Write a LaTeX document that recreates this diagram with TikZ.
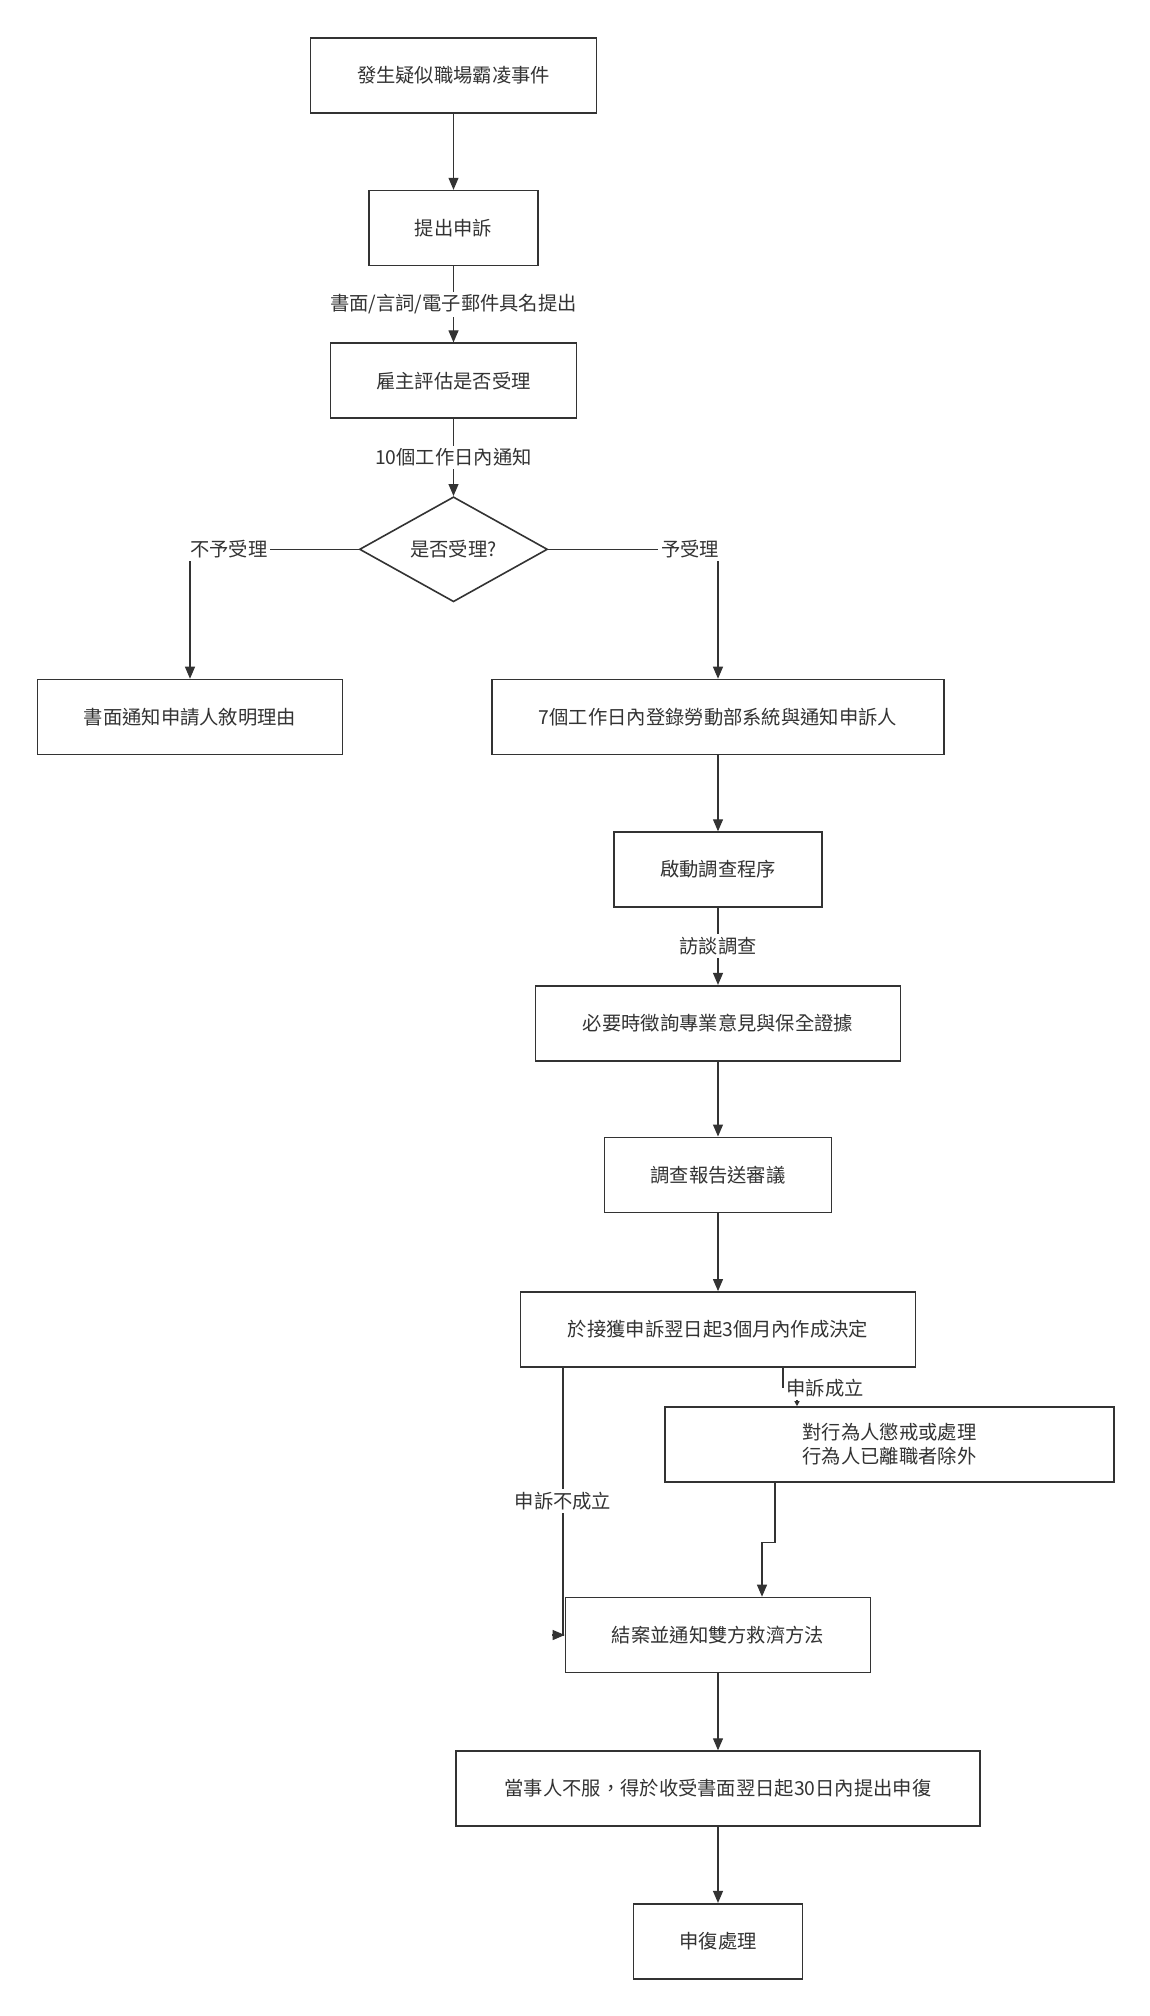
\documentclass[tikz,border=0pt]{standalone}
\usepackage{fontspec}
\setmainfont{Noto Sans CJK TC}
\usepackage{tikz}
\usetikzlibrary{positioning,arrows.meta,shapes.geometric}
\definecolor{ink}{RGB}{51,51,51}
\newcommand{\flowfont}{\fontsize{19.3pt}{24pt}\selectfont}

\begin{document}
\begin{tikzpicture}[x=1pt, y=-1pt,
  box/.style={draw=ink, line width=1.6pt, text=ink, font=\flowfont, align=center,
              minimum height=75pt, inner sep=4pt},
  dec/.style={draw=ink, line width=1.6pt, text=ink, font=\flowfont, diamond,
              minimum width=188pt, minimum height=105pt, inner sep=0pt},
  arr/.style={-{Triangle[length=12pt, width=10pt]}, ink, line width=1.1pt},
  tip/.style={-{Triangle[length=5pt, width=5pt]}, ink, line width=1.1pt},
  lbl/.style={fill=white, text=ink, font=\flowfont, inner sep=3pt}]

\useasboundingbox[fill=white] (0,0) rectangle (1149,2016);

% main column
\node[box, minimum width=286pt] (event) at (453.5,75.5) {發生疑似職場霸凌事件};
\node[box, minimum width=169pt, below=76pt of event] (file) {提出申訴};
\node[box, minimum width=246pt, below=76pt of file] (assess) {雇主評估是否受理};
\node[dec, below=77pt of assess] (accept) {是否受理?};

% branches
\node[box, minimum width=305pt] (reject) at (190,717) {書面通知申請人敘明理由};
\node[box, minimum width=452pt] (register) at (718,717) {7個工作日內登錄勞動部系統與通知申訴人};
\node[box, minimum width=208pt, below=76pt of register] (start) {啟動調查程序};
\node[box, minimum width=365pt, below=77pt of start] (evid) {必要時徵詢專業意見與保全證據};
\node[box, minimum width=227pt, below=75pt of evid] (report) {調查報告送審議};
\node[box, minimum width=395pt, below=78pt of report] (decide) {於接獲申訴翌日起3個月內作成決定};
\node[box, minimum width=449pt] (act) at (889.5,1444.5) {對行為人懲戒或處理\\行為人已離職者除外};
\node[box, minimum width=305pt] (close) at (718,1635) {結案並通知雙方救濟方法};
\node[box, minimum width=524pt, below=77pt of close] (appeal) {當事人不服，得於收受書面翌日起30日內提出申復};
\node[box, minimum width=169pt, below=76pt of appeal] (review) {申復處理};

\coordinate (upheld) at (783,0);
\coordinate (upheldin) at (797,0);
\coordinate (dismiss) at (563,0);
\coordinate (actout) at (775,0);
\coordinate (closein) at (762,0);

\draw[arr] (event) -- (file);
\draw[arr] (file) -- node[lbl]{書面/言詞/電子郵件具名提出} (assess);
\draw[arr] (assess) -- node[lbl]{10個工作日內通知} (accept);
\draw[arr] (accept.west) -| node[lbl, pos=0.385]{不予受理} (reject.north);
\draw[arr] (accept.east) -| node[lbl, pos=0.418]{予受理} (register.north);
\draw[arr] (register) -- (start);
\draw[arr] (start) -- node[lbl]{訪談調查} (evid);
\draw[arr] (evid) -- (report);
\draw[arr] (report) -- (decide);
\draw[tip] (decide.south -| upheld) -- ++(0,20) node[lbl, anchor=west]{申訴成立}
  -| (act.north -| upheldin);
\draw[arr] (decide.south -| dismiss) -- node[lbl]{申訴不成立} (close.west -| dismiss)
  -- ++(-11,0) -- (close.west);
\draw[arr] (act.south -| actout) -- ++(0,60) -| (close.north -| closein);
\draw[arr] (close) -- (appeal);
\draw[arr] (appeal) -- (review);
\end{tikzpicture}
\end{document}
